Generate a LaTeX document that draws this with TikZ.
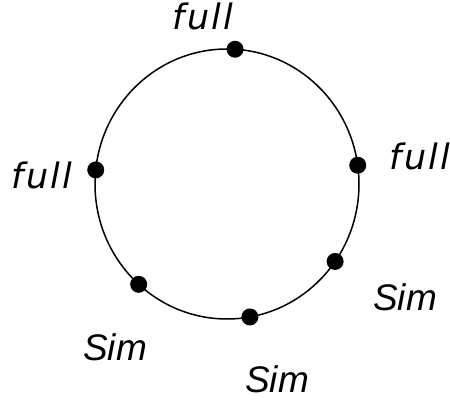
\documentclass[tikz,border=0pt]{standalone}
\usepackage{fontspec}
\usepackage{tikz}
\usetikzlibrary{positioning,calc}
\newfontfamily\fullfont{DejaVu Sans}[LetterSpace=6]
\newfontfamily\simfont{Liberation Sans}
\tikzset{
  ring/.style={draw=black,line width=1.5pt},
  dotnode/.style={circle,fill=black,inner sep=0pt,minimum size=17pt},
  fulllabel/.style={inner sep=0pt,font=\fullfont\itshape\fontsize{35}{40}\selectfont},
  simlabel/.style={inner sep=0pt,font=\simfont\itshape\fontsize{37}{40}\selectfont}
}

\begin{document}
\begin{tikzpicture}[x=1pt,y=1pt]
  \useasboundingbox (0,0) rectangle (450,402);
  \coordinate (c) at (227,218);

  \draw[ring] (c) ellipse [x radius=132,y radius=135];

  \node[dotnode] (ptop)   at ([shift={(86.5:132 and 135)}]c) {};
  \node[dotnode] (pleft)  at ([shift={(174:132 and 135)}]c) {};
  \node[dotnode] (pright) at ([shift={(8:132 and 135)}]c) {};
  \node[dotnode] (plr)    at ([shift={(-35:132 and 135)}]c) {};
  \node[dotnode] (pbot)   at ([shift={(-80:132 and 135)}]c) {};
  \node[dotnode] (pll)    at ([shift={(-132:132 and 135)}]c) {};

  \node[fulllabel] (ltop)   at (203,386) {full};
  \node[fulllabel] (lleft)  at (42,227)  {full};
  \node[fulllabel] (lright) at (420,246) {full};
  \node[simlabel]  (llr)    at (405,105) {Sim};
  \node[simlabel]  (lbot)   at (277,23)  {Sim};
  \node[simlabel]  (lll)    at (115,55)  {Sim};
\end{tikzpicture}
\end{document}
